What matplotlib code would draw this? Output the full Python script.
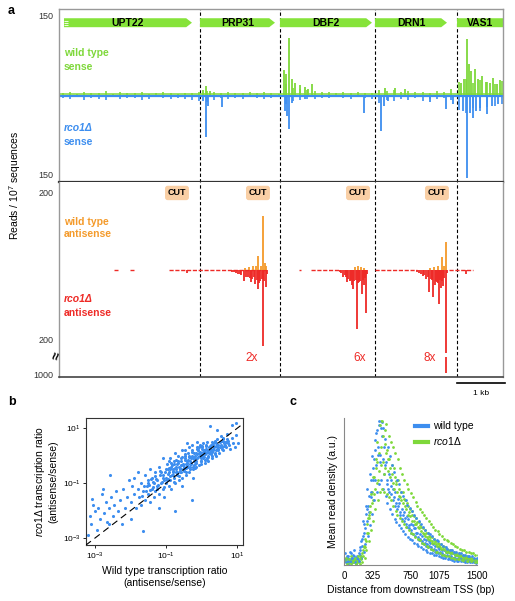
import numpy as np
import matplotlib
matplotlib.use('Agg')
import matplotlib.pyplot as plt
from matplotlib.patches import Polygon
from matplotlib.lines import Line2D

plt.rcParams['font.family'] = ['Liberation Sans', 'DejaVu Sans']
plt.rcParams['mathtext.fontset'] = 'custom'
plt.rcParams['mathtext.rm'] = 'Liberation Sans'
plt.rcParams['mathtext.it'] = 'Liberation Sans:italic'
plt.rcParams['mathtext.bf'] = 'Liberation Sans:bold'

# ---------------- panel a data (positions in bp, reads / 10^7) ----------------
gene_names = ['UPT22', 'PRP31', 'DBF2', 'DRN1', 'VAS1']
gene_start = [104, 2937, 4604, 6583, 8292]
gene_end = [2770, 4500, 6520, 8083, 9400]
cut_pos = [2458, 4145, 6229, 7874]
fold_pos = [4020, 6270, 7728]
fold_text = ['2x', '6x', '8x']

# low background signal, every 150 bp
bg_pos = np.arange(75, 9300, 150)
wt_sense_bg = [3, 5, 2, 6, 4, 3, 7, 2, 5, 4, 3, 6, 2, 4, 5, 3, 2, 4, 3, 6,
               8, 6, 4, 5, 3, 4, 6, 3, 5, 4, 2,
               20, 14, 12, 10, 8, 6, 5, 4, 6, 3, 5, 4, 3,
               9, 7, 10, 6, 8, 5, 6, 4, 7, 5, 12,
               25, 30, 22, 28, 24, 20, 26]
rco_sense_bg = [6, 8, 4, 9, 5, 7, 10, 4, 8, 6, 5, 9, 7, 4, 6, 8, 5, 7, 9, 12,
                14, 10, 6, 8, 5, 7, 4, 6, 8, 5, 3,
                18, 12, 9, 7, 8, 5, 6, 4, 5, 7, 4, 6, 8,
                15, 10, 12, 8, 9, 6, 11, 7, 8, 6, 10,
                28, 35, 25, 30, 22, 20, 18]

wt_sense_pos = [3000, 3062, 3145, 4687, 4729, 4791, 4853, 4916, 5020, 5124,
                5187, 5270, 6790, 7000, 7207, 8374, 8437, 8500, 8540, 8582,
                8666, 8728, 8811, 8895, 8978, 9040, 9124, 9186]
wt_sense_val = [10, 17, 8, 47, 40, 108, 30, 22, 18, 15,
                12, 21, 13, 13, 12, 22, 30, 106, 59, 45,
                49, 30, 36, 25, 22, 32, 20, 28]
rco_sense_pos = [3000, 3062, 3104, 3395, 4708, 4750, 4791, 4853, 5124, 6353,
                 6707, 6770, 6853, 7728, 8061, 8207, 8416, 8500, 8562, 8624,
                 8687, 8770, 8916, 9020, 9145]
rco_sense_val = [12, 80, 20, 23, 30, 40, 65, 15, 8, 34,
                 68, 21, 12, 13, 27, 18, 30, 158, 35, 44,
                 30, 25, 36, 20, 17]

wt_anti_pos = [3875, 3958, 4041, 4104, 4145, 4200, 4250, 4291, 4312,
               6166, 6229, 6291, 6354, 7728, 7811, 7895, 7978, 8020, 8061]
wt_anti_val = [5, 8, 10, 12, 38, 12, 148, 20, 10,
               8, 10, 8, 6, 6, 8, 10, 36, 12, 77]
rco_anti_pos = [2666, 3687, 3770, 3854, 3937, 4000, 4083, 4145, 4187, 4250,
                4312, 5916, 6000, 6062, 6104, 6124, 6207, 6250, 6312, 6354,
                6395, 7582, 7645, 7707, 7790, 7832, 7874, 7916, 7957, 8000,
                8061, 8478,
                3600, 3640, 3720, 3800, 3900, 3970, 4020, 4060, 4120, 4170, 4220, 4270, 4330,
                5850, 5880, 5950, 5980, 6030, 6090, 6150, 6180, 6230, 6280, 6330, 6370, 6420,
                7450, 7500, 7540, 7610, 7680, 7740, 7770, 7850, 7890, 7940, 7980, 8030, 8080]
rco_anti_val = [8, 8, 12, 30, 19, 33, 38, 52, 30, 208,
                47, 19, 33, 30, 41, 52, 162, 33, 66, 40,
                118, 16, 25, 60, 74, 40, 33, 93, 50, 44,
                227, 12,
                5, 6, 10, 14, 18, 22, 25, 20, 28, 35, 25, 30, 12,
                6, 8, 14, 20, 24, 28, 30, 26, 35, 30, 28, 22, 10,
                5, 7, 10, 14, 20, 24, 28, 30, 35, 28, 30, 22, 8]
rco_break_pos = 8061
rco_break_lo, rco_break_hi = 238, 282
red_base_start = [1150, 1480, 2300, 5000, 5250, 6580, 8120]
red_base_end = [1220, 1560, 4330, 5040, 5850, 7450, 8620]

# ---------------- panel b data (log10 antisense/sense ratios) ----------------
wt_ratio_log = [-3.20, -3.15, -3.10, -3.08, -3.05, -3.00, -2.95, -2.90, -2.85, -2.80,
                -2.77, -2.75, -2.70, -2.65, -2.60, -2.60, -2.58, -2.55, -2.50, -2.45,
                -2.40, -2.35, -2.30, -2.25, -2.20, -2.15, -2.10, -2.05, -2.00, -2.00,
                -1.95, -1.90, -1.90, -1.85, -1.80, -1.80, -1.75, -1.70, -1.70, -1.65,
                -1.65, -1.60, -1.60, -1.55, -1.50, -1.50, -1.45, -1.45, -1.40, -1.40,
                -1.35, -1.35, -1.30, -1.30, -1.25, -1.25, -1.20, -1.20, -1.20, -1.15,
                -1.15, -1.10, -1.10, -1.10, -1.05, -1.05, -1.00, -1.00,
                -0.97, -0.93, -0.99, -0.91, -0.95, -0.98, -0.92,
                -0.87, -0.83, -0.89, -0.81, -0.85, -0.88, -0.82,
                -0.77, -0.73, -0.79, -0.71, -0.75, -0.78, -0.72, -0.76, -0.75,
                -0.67, -0.63, -0.69, -0.61, -0.65, -0.68, -0.62, -0.66,
                -0.57, -0.53, -0.59, -0.51, -0.55, -0.58, -0.52, -0.56, -0.54,
                -0.47, -0.43, -0.49, -0.41, -0.45, -0.48, -0.42, -0.46, -0.44, -0.41,
                -0.37, -0.33, -0.39, -0.31, -0.35, -0.38, -0.32, -0.36, -0.34, -0.27,
                -0.27, -0.23, -0.29, -0.21, -0.25, -0.28, -0.22, -0.26, -0.24, -0.25,
                -0.17, -0.13, -0.19, -0.11, -0.15, -0.18, -0.12, -0.16, -0.14,
                -0.07, -0.03, -0.09, -0.01, -0.05, -0.08, -0.02, -0.06, -0.04,
                0.03, 0.07, 0.01, 0.09, 0.05, 0.02, 0.08, 0.04, 0.06,
                0.13, 0.17, 0.11, 0.19, 0.15, 0.12, 0.18, 0.14,
                0.23, 0.27, 0.21, 0.29, 0.25, 0.22, 0.28, 0.24, 0.24,
                0.33, 0.37, 0.31, 0.39, 0.35, 0.32, 0.38,
                0.43, 0.47, 0.41, 0.49, 0.45, 0.42, 0.44,
                0.53, 0.57, 0.51, 0.59, 0.55,
                0.63, 0.67, 0.61, 0.69,
                0.73, 0.77, 0.71, 0.79,
                0.84, 0.86, 0.88, 0.93, 0.95, 0.97, 1.03,
                -1.28, -1.22, -1.18, -1.12, -1.08, -1.02, -1.26, -1.16, -1.06,
                -0.96, -0.92, -0.88, -0.84, -0.80, -0.94, -0.86, -0.82, -0.90, -0.78,
                -0.74, -0.70, -0.66, -0.62, -0.58, -0.72, -0.64, -0.60, -0.68, -0.56,
                -0.52, -0.48, -0.44, -0.40, -0.36, -0.50, -0.42, -0.38, -0.46, -0.34,
                -0.30, -0.26, -0.22, -0.18, -0.14, -0.28, -0.20, -0.16, -0.24, -0.12,
                -0.10, -0.06, -0.02, 0.02, 0.06, -0.08, 0.00, 0.04, -0.04, 0.08,
                0.10, 0.14, 0.18, 0.22, 0.26, 0.12, 0.20, 0.16, 0.24, 0.28,
                0.30, 0.34, 0.38, 0.42, 0.46, 0.32, 0.40, 0.36, 0.44, 0.50,
                0.54, 0.58, 0.62, 0.66, 0.70, 0.56, 0.64, 0.60, 0.68, 0.74,
                -1.48, -1.42, -1.38, -1.32, -1.46, -1.36, -1.52, -1.56, -1.62, -1.68]
rco_ratio_log = [-2.90, -2.20, -2.50, -1.57, -1.80, -2.00, -2.70, -1.90, -2.30, -1.40,
                 -1.21, -2.10, -1.70, -2.40, -1.90, -2.50, -0.71, -1.50, -2.20, -1.80,
                 -1.30, -2.00, -1.60, -2.50, -1.20, -1.90, -1.50, -0.90, -1.70, -2.30,
                 -1.10, -1.40, -0.80, -1.90, -1.20, -0.60, -1.50, -1.00, -1.80, -1.30,
                 -2.75, -0.70, -1.60, -1.10, -1.40, -0.90, -0.50, -1.70, -1.20, -0.80,
                 -1.00, -1.50, -0.60, -1.30, -0.90, -1.10, -0.40, -1.40, -1.90, -1.00,
                 -0.60, -1.20, -0.70, -0.10, -0.90, -1.50, -0.50, -1.00,
                 -0.3, -0.6, -0.8, -1.1, -0.5, -0.9, -0.2,
                 -0.4, -0.7, -0.9, -0.5, -1.2, -0.1, -0.6,
                 -0.3, -0.5, -0.8, -0.6, -1.0, -0.2, -0.4, 0.1, -2.0,
                 -0.2, -0.4, -0.7, -0.5, -0.9, -0.3, -0.6, 0.0,
                 -0.1, -0.3, -0.6, -0.4, -0.8, -0.2, -0.5, 0.2, -1.1,
                 -0.1, -0.3, -0.5, -0.2, -0.7, 0.0, -0.4, 0.2, -0.6, 0.46,
                 0.0, -0.2, -0.4, -0.1, -0.6, 0.1, -0.3, 0.3, -0.5, -1.6,
                 0.0, -0.2, -0.3, 0.1, -0.5, 0.2, -0.1, 0.4, -0.4, -0.8,
                 0.1, -0.1, -0.3, 0.2, -0.4, 0.0, 0.3, -0.2, 0.5,
                 0.1, -0.1, 0.2, -0.3, 0.0, 0.3, -0.2, 0.4, 0.15,
                 0.15, -0.05, 0.25, -0.25, 0.05, 0.35, -0.15, 0.45, 0.2,
                 0.1, 0.0, 0.25, -0.2, -0.1, 0.35, 0.15, 0.5,
                 0.2, 0.05, 0.3, -0.1, 0.4, 0.1, 0.5, 0.25, 1.07,
                 0.25, 0.1, 0.4, 0.0, 0.35, 0.2, 0.55,
                 0.3, 0.2, 0.45, 0.1, 0.4, 0.6, 0.93,
                 0.35, 0.25, 0.5, 0.2, 0.7,
                 0.45, 0.3, 0.6, 0.5,
                 0.55, 0.4, 0.8, 0.25,
                 0.65, 1.1, 0.45, 0.3, 0.75, 1.2, 0.46,
                 -0.85, -1.05, -0.70, -0.95, -0.80, -0.60, -1.20, -0.55, -1.15,
                 -0.65, -0.45, -0.75, -0.35, -0.55, -0.85, -0.25, -0.70, -0.50, -0.95,
                 -0.45, -0.65, -0.25, -0.55, -0.35, -0.15, -0.75, -0.45, -0.60, -0.05,
                 -0.35, -0.15, -0.45, -0.25, -0.05, -0.55, -0.35, -0.15, 0.05, -0.40,
                 -0.25, -0.05, -0.35, -0.15, 0.05, 0.15, -0.45, -0.25, -0.10, 0.25,
                 -0.05, 0.10, -0.20, 0.00, 0.20, -0.35, 0.30, -0.10, 0.05, 0.15,
                 0.05, 0.20, -0.05, 0.30, 0.15, 0.40, 0.10, -0.15, 0.35, 0.00,
                 0.15, 0.30, 0.05, 0.35, 0.25, 0.45, 0.20, 0.50, 0.40, 0.30,
                 0.40, 0.30, 0.50, 0.40, 0.60, 0.55, 0.35, 0.65, 0.50, 0.45,
                 -1.05, -0.85, -1.15, -0.75, -1.25, -0.95, -1.00, -1.30, -1.10, -1.45]

# ---------------- panel c data (mean read density, a.u.) ----------------
dist_a = np.arange(0, 1500, 25)
dist_b = np.arange(5, 1500, 25)
dist_c = np.arange(10, 1500, 25)
dist_d = np.arange(15, 1500, 25)
dist_e = np.arange(20, 1500, 25)
wt_density_a = [0.05, 0.03, 0.06, 0.04, 0.07, 0.03, 0.05, 0.10, 0.18, 0.22,
                0.35, 0.40, 0.58, 0.66, 0.78, 0.92, 0.95, 0.88, 0.62, 0.70,
                0.52, 0.58, 0.44, 0.50, 0.38, 0.42, 0.31, 0.36, 0.28, 0.31,
                0.24, 0.27, 0.20, 0.22, 0.17, 0.20, 0.14, 0.17, 0.12, 0.15,
                0.10, 0.13, 0.09, 0.11, 0.07, 0.10, 0.06, 0.09, 0.05, 0.08,
                0.05, 0.07, 0.04, 0.06, 0.04, 0.05, 0.03, 0.05, 0.03, 0.04]
wt_density_b = [0.03, 0.06, 0.04, 0.08, 0.03, 0.05, 0.04, 0.12, 0.13, 0.28,
                0.30, 0.47, 0.50, 0.58, 0.85, 0.75, 0.70, 0.97, 0.80, 0.58,
                0.62, 0.48, 0.52, 0.40, 0.45, 0.34, 0.38, 0.30, 0.33, 0.25,
                0.28, 0.21, 0.25, 0.18, 0.21, 0.15, 0.18, 0.13, 0.16, 0.11,
                0.14, 0.09, 0.12, 0.08, 0.10, 0.07, 0.09, 0.06, 0.08, 0.05,
                0.07, 0.04, 0.06, 0.04, 0.05, 0.03, 0.05, 0.03, 0.04, 0.02]
wt_density_c = [0.04, 0.05, 0.02, 0.05, 0.06, 0.04, 0.03, 0.07, 0.20, 0.25,
                0.38, 0.36, 0.46, 0.72, 0.68, 0.80, 0.75, 0.72, 0.68, 0.55,
                0.50, 0.54, 0.46, 0.42, 0.40, 0.36, 0.34, 0.32, 0.26, 0.27,
                0.22, 0.25, 0.22, 0.19, 0.18, 0.16, 0.15, 0.14, 0.13, 0.12,
                0.11, 0.10, 0.08, 0.09, 0.08, 0.06, 0.07, 0.05, 0.06, 0.05,
                0.04, 0.05, 0.05, 0.04, 0.03, 0.04, 0.04, 0.03, 0.03, 0.03]
wt_density_d = [0.08, 0.01, 0.09, 0.02, 0.10, 0.01, 0.08, 0.05, 0.30, 0.14,
                0.52, 0.27, 0.74, 0.44, 0.90, 0.55, 0.93, 0.52, 0.86, 0.42,
                0.74, 0.35, 0.63, 0.29, 0.55, 0.25, 0.47, 0.21, 0.41, 0.18,
                0.37, 0.15, 0.32, 0.13, 0.28, 0.11, 0.24, 0.09, 0.21, 0.08,
                0.18, 0.065, 0.16, 0.055, 0.13, 0.045, 0.11, 0.04, 0.10, 0.03,
                0.09, 0.028, 0.08, 0.025, 0.07, 0.02, 0.06, 0.018, 0.05, 0.015]
wt_density_e = [0.02, 0.03, 0.03, 0.05, 0.02, 0.06, 0.03, 0.16, 0.09, 0.40,
                0.20, 0.62, 0.35, 0.58, 0.50, 0.98, 0.58, 0.93, 0.47, 0.80,
                0.38, 0.68, 0.31, 0.58, 0.27, 0.50, 0.23, 0.44, 0.19, 0.39,
                0.17, 0.34, 0.14, 0.30, 0.12, 0.26, 0.10, 0.22, 0.085, 0.20,
                0.07, 0.17, 0.06, 0.14, 0.05, 0.12, 0.04, 0.10, 0.035, 0.09,
                0.03, 0.08, 0.025, 0.07, 0.02, 0.06, 0.02, 0.06, 0.018, 0.05]
rco_density_a = [0.03, 0.02, 0.04, 0.03, 0.02, 0.04, 0.03, 0.05, 0.10, 0.12,
                 0.28, 0.32, 0.50, 0.48, 0.66, 0.58, 0.98, 0.70, 0.82, 0.78,
                 0.72, 0.62, 0.66, 0.55, 0.58, 0.46, 0.50, 0.40, 0.42, 0.36,
                 0.37, 0.30, 0.32, 0.26, 0.27, 0.22, 0.24, 0.19, 0.20, 0.16,
                 0.18, 0.14, 0.15, 0.12, 0.13, 0.10, 0.11, 0.09, 0.10, 0.08,
                 0.08, 0.07, 0.07, 0.06, 0.06, 0.05, 0.05, 0.05, 0.04, 0.04]
rco_density_b = [0.02, 0.04, 0.03, 0.02, 0.04, 0.02, 0.03, 0.04, 0.06, 0.18,
                 0.22, 0.40, 0.42, 0.60, 0.56, 0.76, 0.68, 0.88, 0.66, 0.72,
                 0.60, 0.68, 0.52, 0.57, 0.47, 0.50, 0.42, 0.44, 0.34, 0.38,
                 0.30, 0.33, 0.28, 0.29, 0.23, 0.25, 0.20, 0.22, 0.17, 0.19,
                 0.15, 0.16, 0.13, 0.14, 0.11, 0.12, 0.09, 0.10, 0.08, 0.09,
                 0.07, 0.08, 0.06, 0.07, 0.05, 0.06, 0.04, 0.05, 0.04, 0.03]
rco_density_c = [0.03, 0.03, 0.02, 0.04, 0.03, 0.03, 0.02, 0.06, 0.12, 0.16,
                 0.32, 0.36, 0.44, 0.52, 0.70, 0.64, 0.80, 0.62, 0.76, 0.64,
                 0.66, 0.56, 0.60, 0.50, 0.52, 0.44, 0.45, 0.38, 0.40, 0.33,
                 0.34, 0.28, 0.29, 0.25, 0.26, 0.21, 0.22, 0.18, 0.19, 0.15,
                 0.16, 0.13, 0.14, 0.11, 0.12, 0.09, 0.10, 0.08, 0.09, 0.07,
                 0.07, 0.06, 0.06, 0.05, 0.05, 0.05, 0.04, 0.04, 0.04, 0.03]
rco_density_d = [0.05, 0.02, 0.06, 0.02, 0.05, 0.02, 0.05, 0.02, 0.13, 0.10,
                 0.34, 0.24, 0.60, 0.38, 0.84, 0.50, 0.98, 0.50, 0.96, 0.46,
                 0.84, 0.40, 0.76, 0.34, 0.66, 0.30, 0.58, 0.26, 0.52, 0.22,
                 0.46, 0.19, 0.40, 0.17, 0.36, 0.14, 0.32, 0.12, 0.28, 0.10,
                 0.24, 0.09, 0.21, 0.07, 0.18, 0.06, 0.16, 0.05, 0.14, 0.04,
                 0.12, 0.04, 0.10, 0.03, 0.09, 0.03, 0.08, 0.025, 0.07, 0.02]
rco_density_e = [0.01, 0.04, 0.01, 0.03, 0.01, 0.06, 0.01, 0.08, 0.05, 0.22,
                 0.16, 0.48, 0.30, 0.72, 0.44, 0.95, 0.52, 0.92, 0.48, 0.88,
                 0.44, 0.80, 0.37, 0.72, 0.32, 0.62, 0.28, 0.55, 0.24, 0.49,
                 0.21, 0.43, 0.18, 0.38, 0.15, 0.34, 0.13, 0.30, 0.11, 0.26,
                 0.09, 0.23, 0.08, 0.20, 0.07, 0.17, 0.06, 0.15, 0.05, 0.13,
                 0.04, 0.11, 0.035, 0.10, 0.03, 0.09, 0.025, 0.08, 0.02, 0.07]
dist_ticks = [0, 325, 750, 1075, 1500]

GREEN = '#7ED83A'
GENE = '#86E33A'
BLUE = '#3D8EEF'
ORANGE = '#F49A2A'
RED = '#EE2A26'

W, H = 515, 601
fig = plt.figure(figsize=(W / 100, H / 100), dpi=100)


def box(l, t, r, b):
    return [l / W, 1 - b / H, (r - l) / W, (b - t) / H]


def ftext(px, py, s, **kw):
    fig.text(px / W, 1 - py / H, s, **kw)


# ---------------- panel a ----------------
ax_s = fig.add_axes(box(59, 9, 503, 182))
ax_a = fig.add_axes(box(59, 182, 503, 377))
xmax = 9250
ax_s.set_xlim(0, xmax)
ax_s.set_ylim(-165, 163)
ax_a.set_xlim(0, xmax)
ax_a.set_ylim(-293, 241)

# sense tracks
ax_s.hlines(-1.5, 0, xmax, color=BLUE, lw=1.6)
ax_s.vlines(bg_pos, 0, -np.array(rco_sense_bg), color=BLUE, lw=1.2)
ax_s.vlines(rco_sense_pos, 0, -np.array(rco_sense_val), color=BLUE, lw=1.3)
ax_s.hlines(1, 0, xmax, color=GREEN, lw=1.1)
ax_s.vlines(bg_pos, 0, wt_sense_bg, color=GREEN, lw=1.2)
ax_s.vlines(wt_sense_pos, 0, wt_sense_val, color=GREEN, lw=1.3)

# antisense tracks
for s, e in zip(red_base_start, red_base_end):
    ax_a.hlines(0, s, e, color=RED, lw=1.0, linestyles=(0, (3, 1.2)))
ax_a.vlines(rco_anti_pos, 0, -np.array(rco_anti_val), color=RED, lw=1.3)
ax_a.vlines(rco_break_pos, -rco_break_hi, -rco_break_lo, color=RED, lw=1.3)
ax_a.vlines(wt_anti_pos, 0, wt_anti_val, color=ORANGE, lw=1.3)

# genes
y0, hh, tip = 137, 8.5, 120
for name, s, e in zip(gene_names, gene_start, gene_end):
    pts = [(s, y0 - hh), (e - tip, y0 - hh), (e, y0), (e - tip, y0 + hh), (s, y0 + hh)]
    ax_s.add_patch(Polygon(pts, closed=True, fc=GENE, ec='none'))
    ax_s.text((s + min(e, xmax)) / 2, y0, name, ha='center', va='center',
              fontsize=7.5, fontweight='bold', color='black')
for dy in (-4, 0, 4):
    ax_s.hlines(y0 + dy, gene_start[0], gene_start[0] + 90, color='white', lw=0.6)

for ax in (ax_s, ax_a):
    for b in gene_start[1:]:
        ax.axvline(b, color='black', lw=0.8, ls=(0, (3, 2)), zorder=0)
    ax.set_xticks([])
    ax.tick_params(axis='y', length=0, pad=4, labelsize=6.5, labelcolor='#333333')

ax_s.set_yticks([150, -150])
ax_s.set_yticklabels(['150', '150'])
ax_a.set_yticks([211, -189, -285])
ax_a.set_yticklabels(['200', '200', '1000'])

for sp in ('left', 'top', 'right'):
    ax_s.spines[sp].set_color('#999999')
    ax_s.spines[sp].set_linewidth(1.0)
ax_s.spines['bottom'].set_color('#333333')
ax_s.spines['bottom'].set_linewidth(1.6)
ax_a.spines['top'].set_visible(False)
for sp in ('left', 'right'):
    ax_a.spines[sp].set_color('#999999')
    ax_a.spines[sp].set_linewidth(1.0)
ax_a.spines['bottom'].set_color('#444444')
ax_a.spines['bottom'].set_linewidth(1.2)

for x in cut_pos:
    ax_a.text(x, 211, 'CUT', ha='center', va='center', fontsize=6.5, fontweight='bold',
              bbox=dict(boxstyle='round,pad=0.3', fc='#F9CFA5', ec='none'))
for x, t in zip(fold_pos, fold_text):
    ax_a.text(x, -241, t, ha='center', va='center', fontsize=8.5, color=RED)

ax_a.plot([8290, 9290], [-310, -310], color='black', lw=1.2, clip_on=False)
ax_a.text(8790, -338, '1 kb', ha='center', va='center', fontsize=6)

ftext(64, 53, 'wild type', fontsize=7.5, fontweight='bold', color=GREEN, va='center')
ftext(64, 67, 'sense', fontsize=7.5, fontweight='bold', color=GREEN, va='center')
ftext(64, 128, 'rco1Δ', fontsize=7.5, fontweight='bold', fontstyle='italic', color=BLUE, va='center')
ftext(64, 142, 'sense', fontsize=7.5, fontweight='bold', color=BLUE, va='center')
ftext(64, 222, 'wild type', fontsize=7.5, fontweight='bold', color=ORANGE, va='center')
ftext(64, 234, 'antisense', fontsize=7.5, fontweight='bold', color=ORANGE, va='center')
ftext(64, 299, 'rco1Δ', fontsize=7.5, fontweight='bold', fontstyle='italic', color=RED, va='center')
ftext(64, 313, 'antisense', fontsize=7.5, fontweight='bold', color=RED, va='center')
ftext(57, 356, '≈', fontsize=10, fontweight='bold', rotation=75, ha='center', va='center')
ftext(15, 185, 'Reads / 10$^7$ sequences', fontsize=7.5, rotation=90, ha='center', va='center')
ftext(8, 11, 'a', fontsize=9, fontweight='bold', va='center')

# ---------------- panel b ----------------
ax_b = fig.add_axes(box(86, 418, 243, 545))
ax_b.set_xscale('log')
ax_b.set_yscale('log')
ax_b.scatter(10 ** np.array(wt_ratio_log), 10 ** np.array(rco_ratio_log),
             s=5, color=BLUE, linewidths=0, zorder=2)
ax_b.plot([1e-4, 1e2], [1e-4, 1e2], color='black', lw=0.8, ls=(0, (6, 4)), zorder=3)
ax_b.set_xlim(10 ** -3.25, 10 ** 1.16)
ax_b.set_ylim(10 ** -3.25, 10 ** 1.37)
ax_b.minorticks_off()
ax_b.set_xticks([1e-3, 1e-1, 1e1])
ax_b.set_xticklabels(['$10^{-3}$', '$10^{-1}$', '$10^{1}$'])
ax_b.set_yticks([1e-3, 1e-1, 1e1])
ax_b.set_yticklabels(['$10^{-3}$', '$10^{-1}$', '$10^{1}$'])
ax_b.tick_params(length=2, width=0.6, labelsize=6, pad=2)
for sp in ax_b.spines.values():
    sp.set_linewidth(0.8)
    sp.set_color('#333333')
ax_b.set_xlabel('Wild type transcription ratio\n(antisense/sense)', fontsize=7.5, labelpad=3)
ax_b.set_ylabel('$\\mathit{rco1}\\Delta$ transcription ratio\n(antisense/sense)', fontsize=7.5, labelpad=3)
ftext(8, 402, 'b', fontsize=9, fontweight='bold', va='center')

# ---------------- panel c ----------------
ax_c = fig.add_axes(box(344, 418, 477, 565))
wt_sets = ((dist_a, wt_density_a), (dist_b, wt_density_b), (dist_c, wt_density_c),
           (dist_d, wt_density_d), (dist_e, wt_density_e))
rco_sets = ((dist_a, rco_density_a), (dist_b, rco_density_b), (dist_c, rco_density_c),
            (dist_d, rco_density_d), (dist_e, rco_density_e))
for (xw, yw), (xr, yr) in zip(wt_sets, rco_sets):
    ax_c.scatter(xw, yw, s=4, color=BLUE, linewidths=0)
    ax_c.scatter(xr + 12, yr, s=4, color=GREEN, linewidths=0)
ax_c.set_xlim(0, 1500)
ax_c.set_ylim(0, 1)
ax_c.set_xticks(dist_ticks)
ax_c.set_xticklabels([str(t) for t in dist_ticks])
ax_c.set_yticks([])
ax_c.tick_params(length=0, labelsize=7, pad=4)
ax_c.spines['top'].set_visible(False)
ax_c.spines['right'].set_visible(False)
ax_c.spines['left'].set_color('#888888')
ax_c.spines['bottom'].set_color('#888888')
ax_c.set_xlabel('Distance from downstream TSS (bp)', fontsize=7.5, labelpad=3)
ax_c.set_ylabel('Mean read density (a.u.)', fontsize=7.5, labelpad=4)
handles = [Line2D([0], [0], color=BLUE, lw=3), Line2D([0], [0], color=GREEN, lw=3)]
ax_c.legend(handles, ['wild type', '$\\mathit{rco1}\\Delta$'], loc='upper right',
            bbox_to_anchor=(1.02, 1.02), frameon=False, fontsize=7.5,
            handlelength=1.2, handletextpad=0.5, borderaxespad=0.2, labelspacing=0.4)
ftext(290, 402, 'c', fontsize=9, fontweight='bold', va='center')

fig.savefig('out.png', dpi=100)
